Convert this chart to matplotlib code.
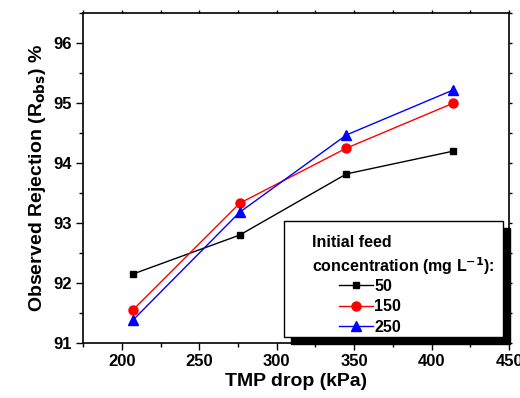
import matplotlib
matplotlib.use('Agg')
import matplotlib.pyplot as plt
from matplotlib.patches import Rectangle
from matplotlib.ticker import MultipleLocator

plt.rcParams['font.family'] = ['Liberation Sans', 'DejaVu Sans']
plt.rcParams['font.weight'] = 'bold'
plt.rcParams['mathtext.default'] = 'bf'

# данные
tmp = [207, 276, 345, 414]
r50 = [92.15, 92.80, 93.82, 94.20]
r150 = [91.55, 93.33, 94.25, 95.00]
r250 = [91.38, 93.18, 94.47, 95.22]
labels = ['50', '150', '250']

fig = plt.figure(figsize=(5.2, 3.98), dpi=100)
ax = fig.add_axes([0.160, 0.138, 0.819, 0.829])

ax.plot(tmp, r50, color='black', marker='s', markersize=5, lw=1, label=labels[0])
ax.plot(tmp, r150, color='red', marker='o', markersize=6.5, lw=1, label=labels[1])
ax.plot(tmp, r250, color='blue', marker='^', markersize=7, lw=1, label=labels[2])

ax.set_xlim(175, 450)
ax.set_ylim(91, 96.5)
ax.xaxis.set_major_locator(MultipleLocator(50))
ax.xaxis.set_minor_locator(MultipleLocator(25))
ax.yaxis.set_major_locator(MultipleLocator(1))
ax.yaxis.set_minor_locator(MultipleLocator(0.5))
ax.tick_params(which='both', direction='out', top=True, right=True, labelsize=12)
ax.tick_params(which='major', length=5, width=1, pad=3)
ax.tick_params(which='minor', length=3, width=1)
# короткие засечки сверху и справа
for axis in (ax.xaxis, ax.yaxis):
    for t in axis.get_major_ticks() + axis.get_minor_ticks():
        t.tick2line.set_markersize(2)
for s in ax.spines.values():
    s.set_linewidth(1.2)

ax.set_xlabel('TMP drop (kPa)', fontsize=14, fontweight='bold', labelpad=3)
ax.set_ylabel('Observed Rejection (R$_{obs}$) %', fontsize=14, fontweight='bold', labelpad=4)

# рамка легенды с тенью
bx, by, bw, bh = 0.472, 0.018, 0.514, 0.352
ax.add_patch(Rectangle((bx + 0.0164, by - 0.0212), bw, bh, transform=ax.transAxes,
                       facecolor='black', edgecolor='black', zorder=5, clip_on=False))
ax.add_patch(Rectangle((bx, by), bw, bh, transform=ax.transAxes,
                       facecolor='white', edgecolor='black', lw=1, zorder=6, clip_on=False))
ax.text(0.5376, 0.306, 'Initial feed', transform=ax.transAxes, fontsize=11.5,
        fontweight='bold', va='center', ha='left', zorder=7)
ax.text(0.5376, 0.232, 'concentration (mg L$^{-1}$):', transform=ax.transAxes,
        fontsize=11.5, fontweight='bold', va='center', ha='left', zorder=7)

leg = ax.legend(loc='upper left', bbox_to_anchor=(0.601, 0.195),
                fontsize=11.5, frameon=False, borderpad=0, borderaxespad=0,
                handlelength=2.1, handletextpad=0.1, labelspacing=0.35)
leg.set_zorder(8)
for t in leg.get_texts():
    t.set_fontweight('bold')

fig.savefig('out.png', dpi=100)
